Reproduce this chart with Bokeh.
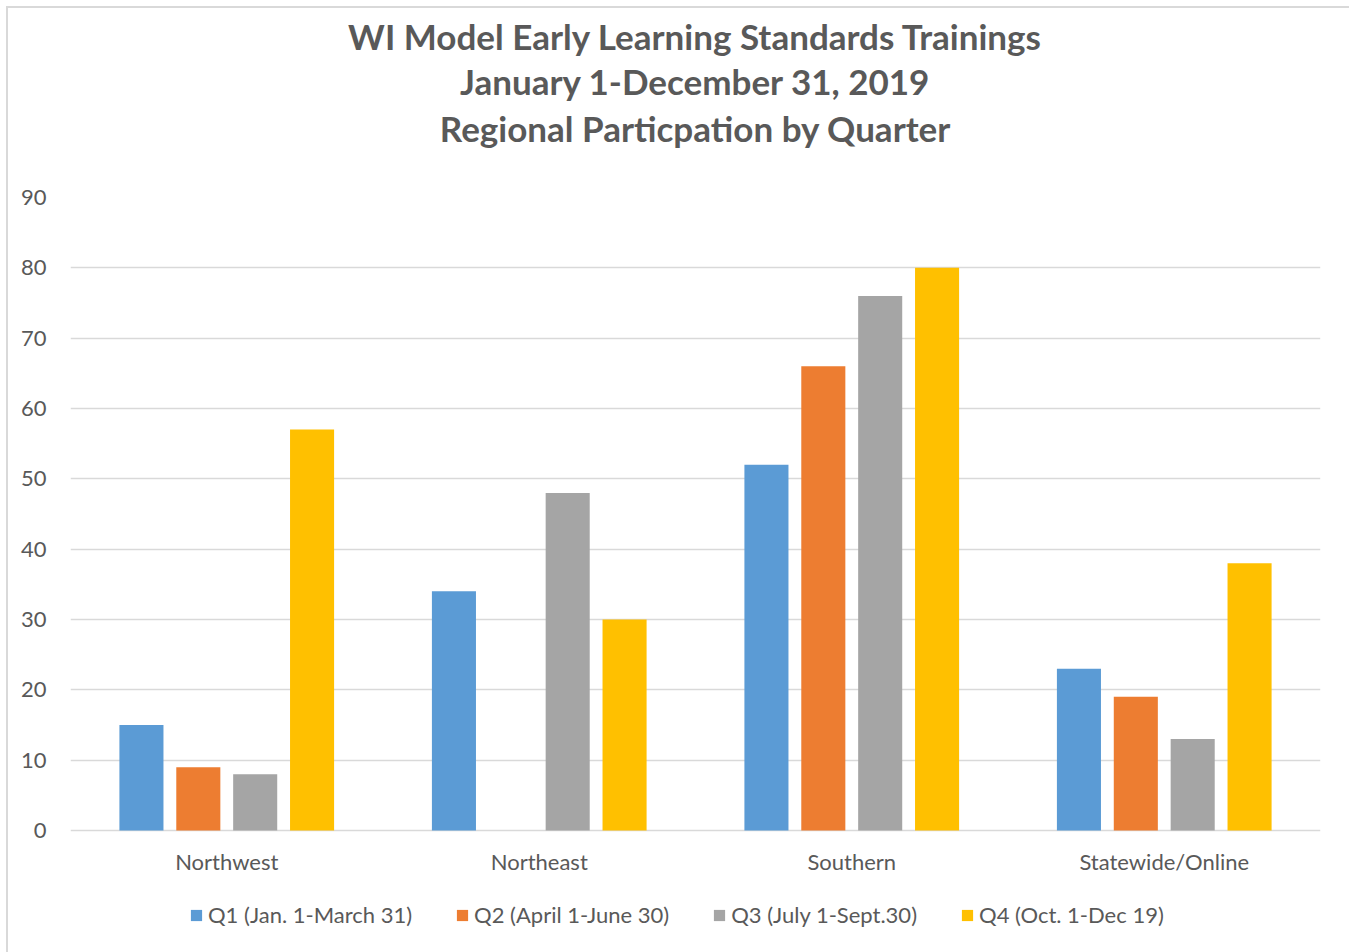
from bokeh.plotting import figure
from bokeh.models import FactorRange, Range1d, Title, Legend, LegendItem, ColumnDataSource, FixedTicker
from bokeh.core.properties import value
from bokeh.transform import dodge
from bokeh.embed import file_html
from bokeh.resources import INLINE

regions = ["Northwest", "Northeast", "Southern", "Statewide/Online"]
quarters = ["Q1 (Jan. 1-March 31)", "Q2 (April 1-June 30)", "Q3 (July 1-Sept.30)", "Q4 (Oct. 1-Dec 19)"]
q1 = [15, 34, 52, 23]
q2 = [9, 0, 66, 19]
q3 = [8, 48, 76, 13]
q4 = [57, 30, 80, 38]
colors = ["#5B9BD5", "#ED7D31", "#A5A5A5", "#FFC000"]
title_lines = ["WI Model Early Learning Standards Trainings",
               "January 1-December 31, 2019",
               "Regional Particpation by Quarter"]
y_ticks = [0, 10, 20, 30, 40, 50, 60, 70, 80, 90]

FONT = "Lato"
TXT = "#595959"

# layout in pixels
PLOT_H = 633          # height of the 0..90 value area
EXTRA_H = 115         # area below zero holding category labels and legend
Y_MAX = 90
px = Y_MAX / PLOT_H   # data units per pixel
y_min = -EXTRA_H * px

src = ColumnDataSource(dict(region=regions, q1=q1, q2=q2, q3=q3, q4=q4))

p = figure(x_range=FactorRange(factors=regions, range_padding=0),
           y_range=Range1d(y_min, Y_MAX),
           frame_width=1250, frame_height=PLOT_H + EXTRA_H,
           output_backend="svg", toolbar_location=None,
           min_border_left=58, min_border_right=29,
           min_border_top=0, min_border_bottom=6)
p.margin = (12, 0, 0, 12)
p.styles = {"outline": "2px solid #d9d9d9", "outline-offset": "4px"}
p.outline_line_color = None

keys = ["q1", "q2", "q3", "q4"]
offsets = [-0.273, -0.091, 0.091, 0.273]
items = []
for key, off, col, lab in zip(keys, offsets, colors, quarters):
    r = p.vbar(x=dodge("region", off, range=p.x_range), top=key, width=0.141,
               source=src, fill_color=col, line_color=None)
    items.append(LegendItem(label=lab, renderers=[r]))

# category labels below the zero line
lab_src = ColumnDataSource(dict(region=regions, y=[-31 * px] * len(regions)))
p.text(x="region", y="y", text="region", source=lab_src,
       text_align="center", text_baseline="middle",
       text_font=value(FONT), text_font_size=value("22px"), text_color=TXT)

p.xaxis.visible = False
p.xgrid.grid_line_color = None
p.ygrid.grid_line_color = "#d9d9d9"
p.ygrid.grid_line_width = 1.5
p.yaxis.ticker = FixedTicker(ticks=y_ticks)
p.yaxis.axis_line_color = None
p.yaxis.minor_tick_line_color = None
p.yaxis.major_tick_line_color = None
p.yaxis.major_tick_out = 0
p.yaxis.major_tick_in = 0
p.yaxis.major_label_standoff = 24
p.yaxis.major_label_text_font = FONT
p.yaxis.major_label_text_font_size = "22px"
p.yaxis.major_label_text_color = TXT

legend = Legend(items=items, orientation="horizontal", location=(119, 17),
                border_line_color=None, background_fill_alpha=0,
                label_text_font=FONT, label_text_font_size="22px", label_text_color=TXT,
                glyph_width=14, glyph_height=14, label_standoff=5, spacing=43,
                margin=0, padding=0)
p.add_layout(legend)

# spacer between the last title line and the plot frame
p.add_layout(Title(text=" ", text_font=FONT, text_font_size="35px", standoff=3), "above")
standoffs = [1, 1, 4]
for line, so in zip(reversed(title_lines), reversed(standoffs)):
    t = Title(text=line, align="center", text_font=FONT, text_font_size="35px",
              text_font_style="bold", text_color=TXT, standoff=so)
    p.add_layout(t, "above")

open("out.html", "w").write(file_html(p, INLINE))
